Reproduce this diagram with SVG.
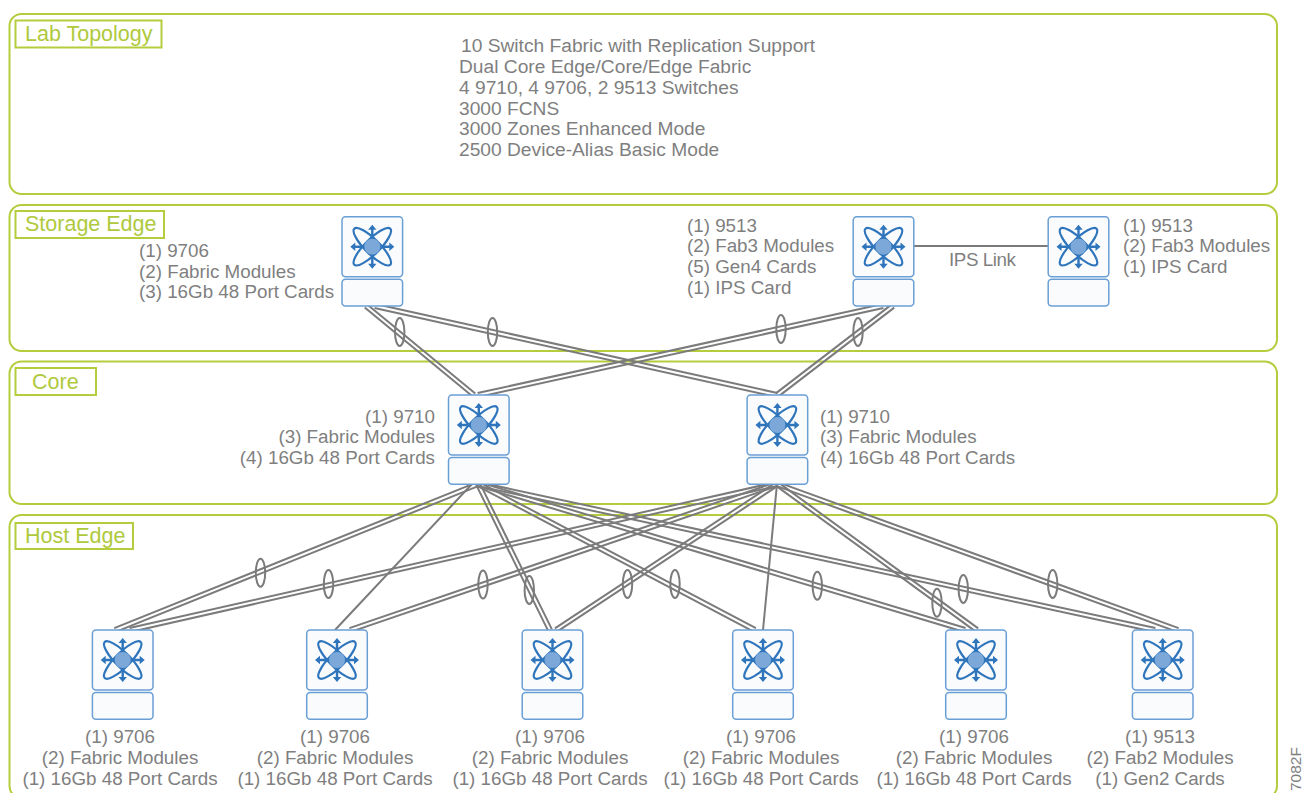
<svg xmlns="http://www.w3.org/2000/svg" xmlns:xlink="http://www.w3.org/1999/xlink" width="1302" height="793" viewBox="0 0 1302 793">
<style>
.panel{fill:none;stroke:#b4cd3d;stroke-width:2}
.tag{fill:#fff;stroke:#b4cd3d;stroke-width:2}
.tagt{font:21.5px "Liberation Sans",Arial,sans-serif;fill:#afc93c}
.t{font:18.8px "Liberation Sans",Arial,sans-serif;fill:#7f7f7f}
.s{font:19.2px "Liberation Sans",Arial,sans-serif;fill:#7f7f7f}
.m{text-anchor:middle}
.e{text-anchor:end}
.l{stroke:#7b7b7b;stroke-width:2;fill:none}
.o{stroke:#7b7b7b;stroke-width:2;fill:none}
.box{fill:#f9fbfd;stroke:#6a9fd6;stroke-width:1.5}
.ic{fill:none;stroke:#2f75bc;stroke-width:2.2}
.ah{fill:#2f75bc}
</style>
<defs>
<g id="sw">
<rect class="box" x="-30.3" y="-30" width="60.6" height="60" rx="3.5"/>
<rect class="box" x="-30.3" y="32.6" width="60.6" height="26.7" rx="3.5"/>
<ellipse class="ic" rx="25.500" ry="7.300" transform="rotate(45)"/>
<ellipse class="ic" rx="25.500" ry="7.300" transform="rotate(-45)"/>
<path class="ic" d="M-19 0H19M0-19V19" style="stroke-width:2.400"/>
<path class="ah" d="M-22 0l5-4.200v8.400zM22 0l-5-4.200v8.400zM0-22l-4.200 5h8.400zM0 22l-4.200-5h8.400z"/>
<circle r="8" fill="#7ba8d8"/>
</g>
</defs>
<g id="panels">
<rect class="panel" x="9.500" y="14" width="1267.500" height="180" rx="12"/>
<rect class="panel" x="9.500" y="205" width="1267.500" height="146" rx="12"/>
<rect class="panel" x="9.500" y="361.500" width="1267.500" height="142.500" rx="12"/>
<rect class="panel" x="9.500" y="515" width="1267.500" height="283" rx="12"/>
</g>
<g id="tags">
<rect class="tag" x="15.500" y="20.500" width="146" height="27"/>
<text class="tagt" x="25" y="40.700">Lab Topology</text>
<rect class="tag" x="15.500" y="211" width="148.500" height="27"/>
<text class="tagt" x="25" y="231">Storage Edge</text>
<rect class="tag" x="15.500" y="368" width="80.500" height="27"/>
<text class="tagt" x="32" y="389">Core</text>
<rect class="tag" x="15.500" y="523" width="117.500" height="26"/>
<text class="tagt" x="25" y="543">Host Edge</text>
</g>
<g id="summary" class="s">
<text x="461" y="52">10 Switch Fabric with Replication Support</text>
<text x="459" y="73">Dual Core Edge/Core/Edge Fabric</text>
<text x="459" y="94">4 9710, 4 9706, 2 9513 Switches</text>
<text x="459" y="115">3000 FCNS</text>
<text x="459" y="135">3000 Zones Enhanced Mode</text>
<text x="459" y="156">2500 Device-Alias Basic Mode</text>
</g>
<g id="connectors">
<path class="l" d="M367.270 304.460L475.270 393.460M364.730 307.540L472.730 396.540"/>
<path class="l" d="M375.440 304.050L777.440 393.050M374.560 307.950L776.560 396.950"/>
<path class="l" d="M883.420 307.950L478.420 396.950M882.580 304.050L477.580 393.050"/>
<path class="l" d="M894.220 307.590L778.220 396.590M891.780 304.410L775.780 393.410"/>
<path class="l" d="M478.740 485.860L115.740 631.860M477.260 482.140L114.260 628.140"/>
<path class="l" d="M472 484L335 630"/>
<path class="l" d="M479.790 483.120L551.790 629.120M476.210 484.880L548.210 630.880"/>
<path class="l" d="M478.930 482.240L755.930 628.240M477.070 485.760L754.070 631.760"/>
<path class="l" d="M478.580 482.080L965.580 628.080M477.420 485.920L964.420 631.920"/>
<path class="l" d="M478.420 482.050L1155.420 628.050M477.580 485.950L1154.580 631.950"/>
<path class="l" d="M777.440 485.950L130.440 631.950M776.560 482.050L129.560 628.050"/>
<path class="l" d="M777.650 485.890L350.650 631.890M776.350 482.110L349.350 628.110"/>
<path class="l" d="M778.100 485.670L557.100 631.670M775.900 482.330L554.900 628.330"/>
<path class="l" d="M777 484L763 630"/>
<path class="l" d="M778.190 482.390L978.190 628.390M775.810 485.610L975.810 631.610"/>
<path class="l" d="M777.680 482.120L1178.680 628.120M776.320 485.880L1177.320 631.880"/>
<path class="l" d="M914 246H1048"/>
<ellipse class="o" cx="399.700" cy="332" rx="4.700" ry="14"/>
<ellipse class="o" cx="492.500" cy="332" rx="4.700" ry="14"/>
<ellipse class="o" cx="781" cy="329" rx="4.700" ry="14"/>
<ellipse class="o" cx="858" cy="332" rx="4.700" ry="14"/>
<ellipse class="o" cx="260.500" cy="572.700" rx="4.700" ry="14"/>
<ellipse class="o" cx="328.500" cy="584" rx="4.700" ry="14"/>
<ellipse class="o" cx="483" cy="584.500" rx="4.700" ry="14"/>
<ellipse class="o" cx="529.300" cy="590" rx="4.700" ry="14"/>
<ellipse class="o" cx="627.500" cy="584" rx="4.700" ry="14"/>
<ellipse class="o" cx="675" cy="584" rx="4.700" ry="14"/>
<ellipse class="o" cx="817.300" cy="585.700" rx="4.700" ry="14"/>
<ellipse class="o" cx="937" cy="602.700" rx="4.700" ry="14"/>
<ellipse class="o" cx="963.300" cy="589" rx="4.700" ry="14"/>
<ellipse class="o" cx="1052.700" cy="584" rx="4.700" ry="14"/>
</g>
<g id="storage-9706"><use xlink:href="#sw" href="#sw" x="372.300" y="246.700"/>
<g class="t"><text x="139" y="257">(1) 9706</text><text x="139" y="278">(2) Fabric Modules</text><text x="139" y="298">(3) 16Gb 48 Port Cards</text></g></g>
<g id="storage-9513-a"><use xlink:href="#sw" href="#sw" x="883.500" y="246.700"/>
<g class="t"><text x="687" y="232">(1) 9513</text><text x="687" y="252">(2) Fab3 Modules</text><text x="687" y="273">(5) Gen4 Cards</text><text x="687" y="294">(1) IPS Card</text></g></g>
<g id="storage-9513-b"><use xlink:href="#sw" href="#sw" x="1078.500" y="246.700"/>
<g class="t"><text x="1123" y="232">(1) 9513</text><text x="1123" y="252">(2) Fab3 Modules</text><text x="1123" y="273">(1) IPS Card</text></g></g>
<text class="t" x="949" y="266" textLength="67">IPS Link</text>
<g id="core-a"><use xlink:href="#sw" href="#sw" x="478.800" y="425"/>
<g class="t e"><text x="435" y="423">(1) 9710</text><text x="435" y="443">(3) Fabric Modules</text><text x="435" y="464">(4) 16Gb 48 Port Cards</text></g></g>
<g id="core-b"><use xlink:href="#sw" href="#sw" x="777.400" y="425"/>
<g class="t"><text x="820" y="423">(1) 9710</text><text x="820" y="443">(3) Fabric Modules</text><text x="820" y="464">(4) 16Gb 48 Port Cards</text></g></g>
<g id="host-1"><use xlink:href="#sw" href="#sw" x="122.700" y="660"/>
<g class="t m"><text x="120" y="743">(1) 9706</text><text x="120" y="764">(2) Fabric Modules</text><text x="120" y="785">(1) 16Gb 48 Port Cards</text></g></g>
<g id="host-2"><use xlink:href="#sw" href="#sw" x="337" y="660"/>
<g class="t m"><text x="335" y="743">(1) 9706</text><text x="335" y="764">(2) Fabric Modules</text><text x="335" y="785">(1) 16Gb 48 Port Cards</text></g></g>
<g id="host-3"><use xlink:href="#sw" href="#sw" x="552.500" y="660"/>
<g class="t m"><text x="550" y="743">(1) 9706</text><text x="550" y="764">(2) Fabric Modules</text><text x="550" y="785">(1) 16Gb 48 Port Cards</text></g></g>
<g id="host-4"><use xlink:href="#sw" href="#sw" x="763" y="660"/>
<g class="t m"><text x="761" y="743">(1) 9706</text><text x="761" y="764">(2) Fabric Modules</text><text x="761" y="785">(1) 16Gb 48 Port Cards</text></g></g>
<g id="host-5"><use xlink:href="#sw" href="#sw" x="976" y="660"/>
<g class="t m"><text x="974" y="743">(1) 9706</text><text x="974" y="764">(2) Fabric Modules</text><text x="974" y="785">(1) 16Gb 48 Port Cards</text></g></g>
<g id="host-6"><use xlink:href="#sw" href="#sw" x="1162.700" y="660"/>
<g class="t m"><text x="1160" y="743">(1) 9513</text><text x="1160" y="764">(2) Fab2 Modules</text><text x="1160" y="785">(1) Gen2 Cards</text></g></g>
<text transform="translate(1301,791) rotate(-90)" style="font:15.500px 'Liberation Sans',Arial,sans-serif;fill:#7f7f7f">7082F</text>
</svg>
